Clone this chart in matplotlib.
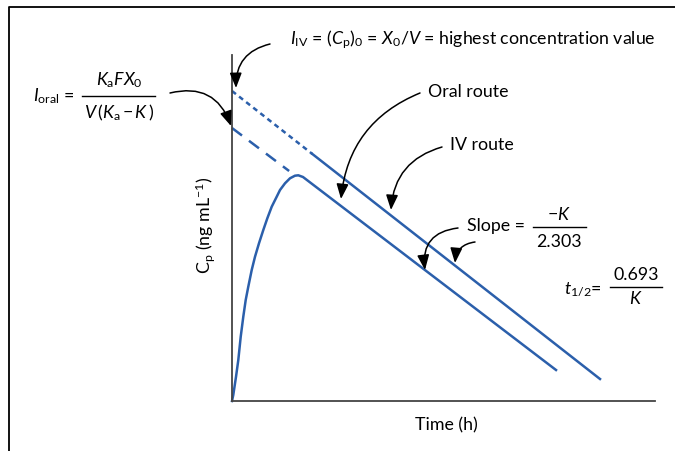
import matplotlib
matplotlib.use("Agg")
import matplotlib.pyplot as plt
from matplotlib.patches import FancyArrowPatch

plt.rcParams['font.family'] = ['Lato', 'DejaVu Sans']
plt.rcParams['mathtext.fontset'] = 'custom'
plt.rcParams['mathtext.rm'] = 'Lato'
plt.rcParams['mathtext.it'] = 'Lato:italic'
plt.rcParams['mathtext.bf'] = 'Lato:bold'
plt.rcParams['font.size'] = 12.8

# log concentration vs time (arbitrary units)
iv_t = [0.0, 1.9, 8.7]
iv_logc = [3.10, 2.47, 0.22]

oral_extrap_t = [0.0, 1.35]
oral_extrap_logc = [2.73, 2.30]

oral_t = [0.0, 0.03, 0.095, 0.149, 0.206, 0.267, 0.324, 0.385, 0.466, 0.544, 0.638,
          0.740, 0.835, 0.939, 1.057, 1.135, 1.253, 1.371, 1.489, 1.567, 1.678, 7.66]
oral_logc = [0.0, 0.06, 0.243, 0.41, 0.643, 0.843, 1.01, 1.143, 1.31, 1.443, 1.577,
             1.71, 1.827, 1.943, 2.043, 2.11, 2.177, 2.227, 2.253, 2.257, 2.24, 0.31]

blue = '#2b5fab'

fig = plt.figure(figsize=(6.75, 4.51), dpi=100)
ax = fig.add_axes([232/675, 50/451, 423/675, 346/451])
ax.set_xlim(0, 10)
ax.set_ylim(0, 3.46)
for s in ['top', 'right']:
    ax.spines[s].set_visible(False)
for s in ['left', 'bottom']:
    ax.spines[s].set_color('#444444')
    ax.spines[s].set_linewidth(1.3)
ax.set_xticks([])
ax.set_yticks([])

ax.plot(iv_t[:2], iv_logc[:2], color=blue, lw=1.8, linestyle=(0, (2, 1.6)), clip_on=False)
ax.plot(iv_t[1:], iv_logc[1:], color=blue, lw=1.8, clip_on=False)
ax.plot(oral_extrap_t, oral_extrap_logc, color=blue, lw=1.8, linestyle=(0, (5, 3.5)), clip_on=False)
ax.plot(oral_t, oral_logc, color=blue, lw=1.8, solid_joinstyle='round', clip_on=False)

# overlay in pixel coordinates for the annotations
ov = fig.add_axes([0, 0, 1, 1], zorder=5)
ov.set_xlim(0, 675)
ov.set_ylim(451, 0)
ov.axis('off')
ov.patch.set_visible(False)

# outer frame
ov.plot([9, 9, 675], [451, 7, 7], color='black', lw=1.3)

# axis labels
ov.text(446, 425, 'Time (h)', ha='center', va='center')
ov.text(205, 225, r'$\mathrm{C_p\ (ng\ mL^{-1})}$', ha='center', va='center', rotation=90)

# top note
ov.text(290, 40, r'$I_{\mathrm{IV}}$ = ($C_{\mathrm{p}}$)$_0$ = $X_0$/$V$ = highest concentration value',
        ha='left', va='center')

# I_oral
ov.text(33, 96, r'$I_{\mathrm{oral}}$ =', ha='left', va='center')
ov.text(119, 80, r'$K_{\mathrm{a}}FX_0$', ha='center', va='center')
ov.plot([82, 155], [96, 96], color='black', lw=1.0)
ov.text(119, 113, r'$V\,(K_{\mathrm{a}}\,\mathrm{-}\,K\,)$', ha='center', va='center')

ov.text(428, 92, 'Oral route', ha='left', va='center')
ov.text(450, 145, 'IV route', ha='left', va='center')

# slope
ov.text(467, 226, 'Slope =', ha='left', va='center')
ov.text(559, 215, r'$\mathrm{-}K$', ha='center', va='center')
ov.plot([533, 586], [227, 227], color='black', lw=1.0)
ov.text(559, 242, '2.303', ha='center', va='center')

# half-life
ov.text(564, 289, r'$t_{1/2}$=', ha='left', va='center')
ov.text(636, 275, '0.693', ha='center', va='center')
ov.plot([610, 662], [287, 287], color='black', lw=1.0)
ov.text(636, 299, r'$K$', ha='center', va='center')

arrows = [
    ((270, 44), (236, 88), 0.4),
    ((170, 93), (231, 126), -0.45),
    ((420, 93), (341, 199), 0.3),
    ((442, 147), (391, 210), 0.35),
    ((458, 228), (425, 270), 0.5),
    ((475, 242), (455, 263), 0.4),
]
for tail, head, rad in arrows:
    ov.add_patch(FancyArrowPatch(tail, head, arrowstyle='-|>,head_length=0.65,head_width=0.26',
                                 mutation_scale=14,
                                 connectionstyle=f'arc3,rad={rad}', color='black',
                                 lw=1.1, shrinkA=0, shrinkB=0))

fig.savefig('out.png', dpi=100)
